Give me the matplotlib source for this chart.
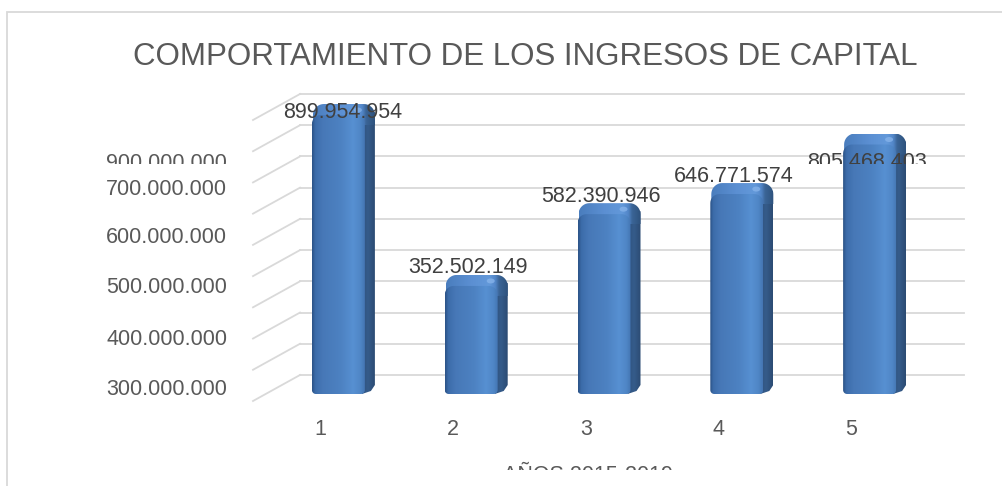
import numpy as np
import matplotlib
matplotlib.use('Agg')
import matplotlib.pyplot as plt
from matplotlib import font_manager
from matplotlib.patches import Polygon, Rectangle, Ellipse
from matplotlib.colors import LinearSegmentedColormap
from matplotlib.transforms import Bbox

# Datos del gráfico
categorias = ['1', '2', '3', '4', '5']
ingresos = [899954954, 352502149, 582390946, 646771574, 805468403]
etiquetas = ['899.954.954', '352.502.149', '582.390.946', '646.771.574', '805.468.403']
lineas_guia = [0, 100e6, 200e6, 300e6, 400e6, 500e6, 600e6, 700e6, 800e6, 900e6]
# etiquetas del eje y tal como aparecen (imagen original deformada)
ticks_txt = ['900.000.000', '700.000.000', '600.000.000', '500.000.000', '400.000.000', '300.000.000']
ticks_pos = [661e6, 576e6, 423e6, 263e6, 96e6, -64e6]
titulo = 'COMPORTAMIENTO DE LOS INGRESOS DE CAPITAL'
titulo_x = 'AÑOS 2015-2019'

# Ajustes de las etiquetas de datos (px: dx, hacia abajo)
ajuste_etiquetas = [(-24, 24), (-31, 8), (-31, 9), (-31, 9), (-31, 44)]

W, H = 1002, 486
fig = plt.figure(figsize=(W / 100, H / 100), dpi=100)
ax = fig.add_axes([0, 0, 1, 1])
ax.axis('off')

# escala: pared del fondo de x=300 a 964 px, y=375 (0) a 94 (900M) px
sx = 5 / 664
sy = 900e6 / 281
prof_x, prof_y = 47, 26  # profundidad de la vista 3D (px)

try:
    font_manager.findfont('Liberation Sans Narrow', fallback_to_default=False)
    fuente_titulo, tam_titulo = 'Liberation Sans Narrow', 27
except ValueError:
    fuente_titulo, tam_titulo = 'Liberation Sans', 22.5
fuente = 'Liberation Sans'
gris = '#595959'

# líneas de cuadrícula (pared del fondo + diagonal del suelo lateral)
for g in lineas_guia:
    ax.plot([0.5, 5.5], [g, g], color='#d9d9d9', lw=1.3, zorder=1)
    ax.plot([0.5 - prof_x * sx, 0.5], [g - prof_y * sy, g], color='#d9d9d9', lw=1.3, zorder=1)

cmap_frente = LinearSegmentedColormap.from_list('frente', [
    (0, '#2b5286'), (0.06, '#3c6caa'), (0.2, '#4778b7'), (0.55, '#4d82c2'),
    (0.78, '#5790d2'), (0.92, '#4f86c6'), (1, '#4475b2')])
cmap_lado = LinearSegmentedColormap.from_list('lado', ['#2d507c', '#355c8b', '#2c4b73'])
cmap_tapa = LinearSegmentedColormap.from_list('tapa', [
    (0, '#4a7dbd'), (0.4, '#5b8fd2'), (0.7, '#6399da'), (0.8, '#5286c8'),
    (0.86, '#3b6597'), (1, '#2e527d')])


def caja(xl, xr, yb, yt, rt, rb):
    pts = []
    for cx, cy, r, a0, a1 in [(xl + rb, yb + rb, rb, 180, 270), (xr - rb, yb + rb, rb, 270, 360),
                              (xr - rt, yt - rt, rt, 0, 90), (xl + rt, yt - rt, rt, 90, 180)]:
        t = np.radians(np.linspace(a0, a1, 10))
        pts += list(zip(cx + r * np.cos(t), cy + r * np.sin(t)))
    return np.array(pts)


def a_datos(c, pts):
    return np.column_stack([c + pts[:, 0] * sx, pts[:, 1] * sy])


def cara(c, pts, cmap, z):
    p = Polygon(a_datos(c, pts), closed=True, facecolor='none', edgecolor='none', zorder=z)
    ax.add_patch(p)
    im = ax.imshow(np.linspace(0, 1, 128).reshape(1, -1), cmap=cmap, aspect='auto',
                   extent=[c + pts[:, 0].min() * sx, c + pts[:, 0].max() * sx,
                           pts[:, 1].min() * sy, pts[:, 1].max() * sy],
                   interpolation='bicubic', zorder=z)
    im.set_clip_path(p)


for i, v in enumerate(ingresos):
    c = i + 1
    alto = v / sy
    xl, xr, yb, yt = -54.5, -1.5, -19, alto - 19
    dx, dy = 10, 9

    # cara lateral
    lado = np.array([(xr - 3, yb), (xr + dx - 4, yb + dy - 6), (xr + dx, yb + dy),
                     (xr + dx, yt + 1), (xr - 4, yt + 1)])
    cara(c, lado, cmap_lado, 2)

    # cara superior redondeada
    tapa = caja(xl + 1, xr + dx, yt - 12, yt + dy, 11, 0)
    cara(c, tapa, cmap_tapa, 3)
    ax.add_patch(Ellipse((c + (xr - 7) * sx, (yt + 3) * sy), 8 * sx, 5 * sy,
                         facecolor='#86b3ea', edgecolor='none', alpha=0.8, zorder=3))

    # cara frontal con degradado
    frente = caja(xl, xr, yb, yt - 2, 9, 4)
    cara(c, frente, cmap_frente, 4)

# recorte horizontal de la imagen original (y = 164 px)
corte = Bbox.from_extents(0, H - 164, W, H)

# etiquetas de datos
for i, (v, txt) in enumerate(zip(ingresos, etiquetas)):
    ox, oy = ajuste_etiquetas[i]
    t = ax.text(i + 1 + ox * sx, v - oy * sy, txt, ha='center', va='baseline',
                fontsize=15.5, family=fuente, color='#404040', zorder=6)
    if i == 4:
        t.set_clip_box(corte)
        t.set_clip_on(True)

# etiquetas del eje y
for i, (p, txt) in enumerate(zip(ticks_pos, ticks_txt)):
    t = ax.text(0.5 - 73 * sx, p, txt, ha='right', va='baseline', fontsize=15.5,
                family=fuente, color=gris, zorder=6)
    if i == 0:
        t.set_clip_box(corte)
        t.set_clip_on(True)

# categorías
for i, cat in enumerate(categorias):
    ax.text(i + 1 - 46 * sx, -60 * sy, cat, ha='center', va='baseline', fontsize=15.5,
            family=fuente, color=gris)

# título del eje x (cortado en la imagen original)
t = ax.text(3 - 44 * sx, -(481 - 375) * sy, titulo_x, ha='center', va='baseline',
            fontsize=15.5, family=fuente, color=gris)
t.set_clip_box(Bbox.from_extents(0, H - 470, W, H))
t.set_clip_on(True)

fig.text(525 / W, 1 - 65 / H, titulo, ha='center', va='baseline', fontsize=tam_titulo,
         family=fuente_titulo, color=gris)

# borde del área del gráfico
fig.add_artist(Rectangle((7 / W, -0.2), 1.2, 1.2 - 12 / H, transform=fig.transFigure,
                         fill=False, edgecolor='#d9d9d9', lw=1.3))

ax.set_xlim(0.5 - 300 * sx, 0.5 + (W - 300) * sx)
ax.set_ylim(-(H - 375) * sy, 375 * sy)

fig.savefig('out.png', dpi=100)
